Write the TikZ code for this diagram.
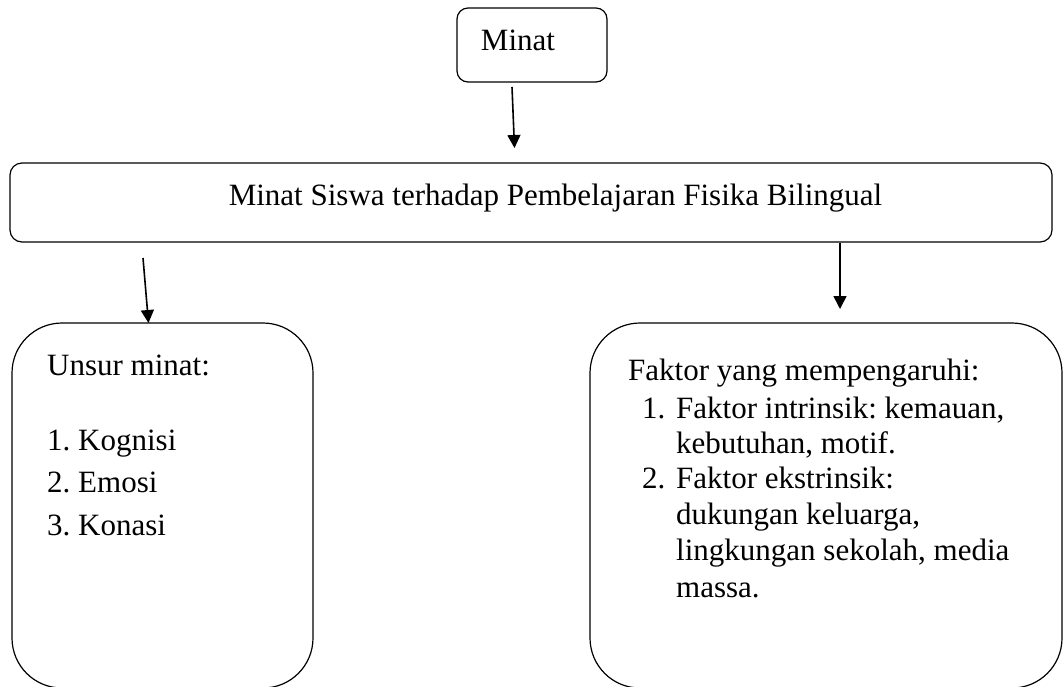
\documentclass[tikz,border=0pt]{standalone}
\usepackage{fontspec}
\setmainfont{Liberation Serif}
\usetikzlibrary{arrows.meta}
\frenchspacing
\begin{document}
\begin{tikzpicture}[x=1pt,y=-1pt,
  box/.style={draw, line width=1.2pt, inner sep=0pt},
  txt/.style={inner sep=0pt, font=\fontsize{31}{36}\selectfont},
  arr/.style={line width=1.6pt, -{Triangle[length=13pt,width=13pt]}}]
\useasboundingbox (0,0) rectangle (1064,686);
% boxes
\node[box, rounded corners=11pt, minimum width=150pt, minimum height=74pt] (minat) at (532,45) {};
\node[box, rounded corners=12pt, minimum width=1042pt, minimum height=79pt] (wide) at (531,202.5) {};
\node[box, rounded corners=50pt, minimum width=301pt, minimum height=365pt] (left) at (162.5,505.5) {};
\node[box, rounded corners=50pt, minimum width=472pt, minimum height=365pt] (right) at (826,505.5) {};
% texts
\node[txt, anchor=base] (tminat) at (518,50) {Minat};
\node[txt, anchor=base] (twide) at (555.5,205) {Minat Siswa terhadap Pembelajaran Fisika Bilingual};
\node[txt, anchor=base west] (l1) at (47,375) {Unsur minat:};
\node[txt, anchor=base west] (l2) at (47,450) {1. Kognisi};
\node[txt, anchor=base west] (l3) at (47,492) {2. Emosi};
\node[txt, anchor=base west] (l4) at (47,535) {3. Konasi};
\node[txt, anchor=base west] (r1) at (628,380) {Faktor yang mempengaruhi:};
\node[txt, anchor=base west] (r2n) at (642,418) {1.};
\node[txt, anchor=base west] (r2) at (676,418) {Faktor intrinsik: kemauan,};
\node[txt, anchor=base west] (r3) at (676,453) {kebutuhan, motif.};
\node[txt, anchor=base west] (r4n) at (642,488) {2.};
\node[txt, anchor=base west] (r4) at (676,488) {Faktor ekstrinsik:};
\node[txt, anchor=base west] (r5) at (676,524) {dukungan keluarga,};
\node[txt, anchor=base west] (r6) at (676,560) {lingkungan sekolah, media};
\node[txt, anchor=base west] (r7) at (676,597) {massa.};
% arrows
\coordinate (a1s) at (512,87);
\coordinate (a1e) at (514.5,148);
\coordinate (a2s) at (143,258);
\coordinate (a2e) at (148.5,323);
\coordinate (a3e) at (840,309);
\draw[arr] (a1s) -- (a1e);
\draw[arr] (a2s) -- (a2e);
\draw[arr] (wide.south -| a3e) -- (a3e);
\end{tikzpicture}
\end{document}
